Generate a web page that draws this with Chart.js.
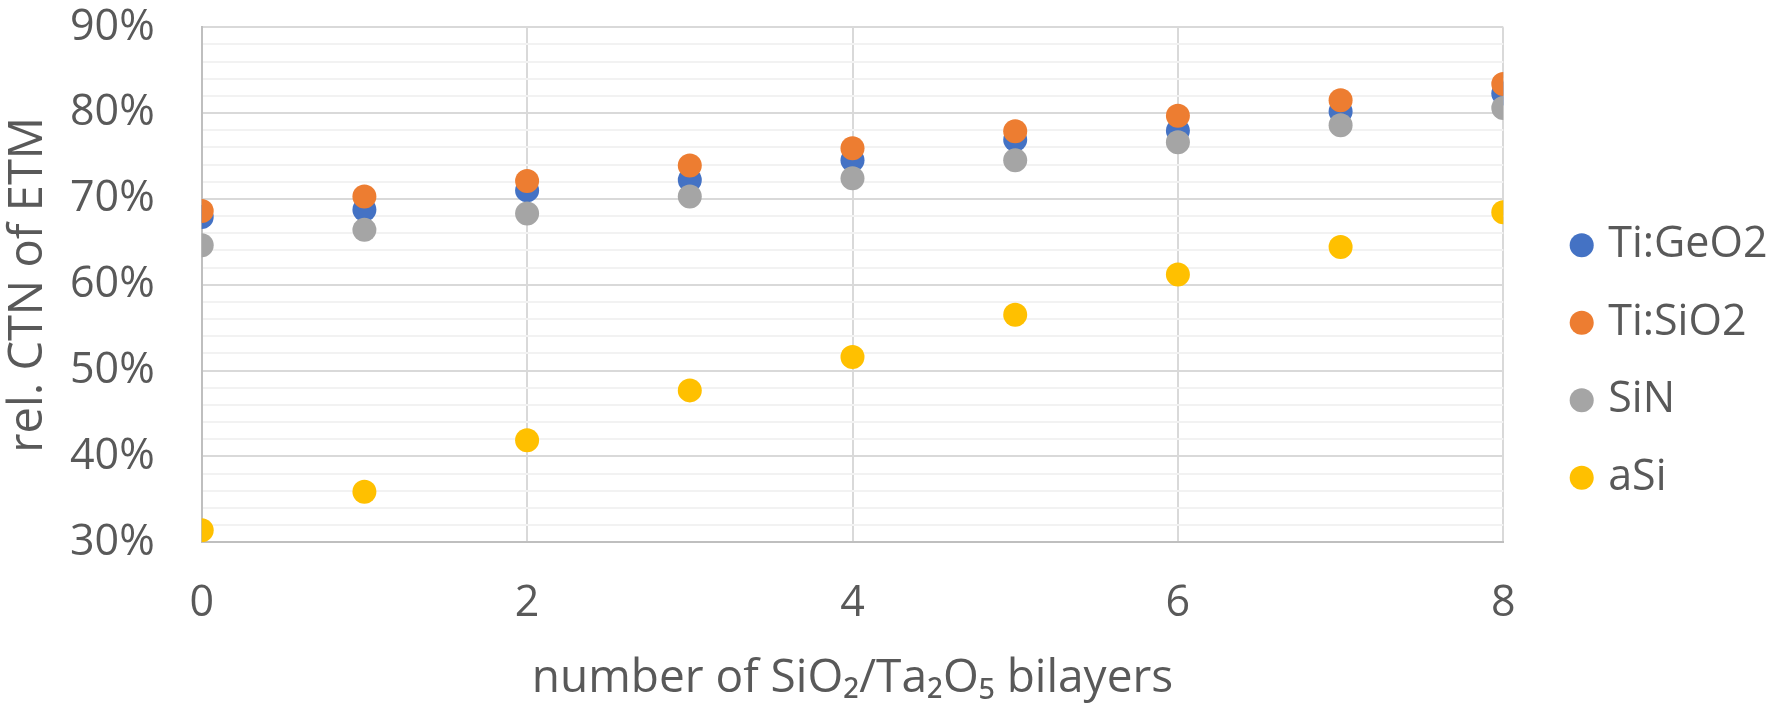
<!DOCTYPE html>
<html>
<head>
<meta charset="utf-8">
<script src="https://cdn.jsdelivr.net/npm/chart.js@4/dist/chart.umd.min.js"></script>
<style>
html,body{margin:0;padding:0;background:#fff;}
canvas{display:block;}
</style>
</head>
<body>
<canvas id="c" width="1787" height="703"></canvas>
<script>
// ---- data (values in %) ----
const bilayers = [0, 1, 2, 3, 4, 5, 6, 7, 8];
const seriesNames = ['Ti:GeO2', 'Ti:SiO2', 'SiN', 'aSi'];
const tiGeO2 = [67.9, 68.75, 71.0, 72.2, 74.5, 76.9, 77.95, 80.2, 82.3];
const tiSiO2 = [68.6, 70.3, 72.1, 73.9, 75.9, 77.9, 79.7, 81.5, 83.4];
const siN    = [64.6, 66.4, 68.3, 70.3, 72.4, 74.5, 76.6, 78.6, 80.6];
const aSi    = [31.4, 35.9, 41.9, 47.7, 51.6, 56.5, 61.2, 64.4, 68.45];
const xTicks = [0, 2, 4, 6, 8];
const yTicks = [30, 32, 34, 36, 38, 40, 42, 44, 46, 48, 50, 52, 54, 56, 58, 60,
                62, 64, 66, 68, 70, 72, 74, 76, 78, 80, 82, 84, 86, 88, 90];
const yMajorTicks = [30, 40, 50, 60, 70, 80, 90];
const xTitle = 'number of SiO\u2082/Ta\u2082O\u2085 bilayers';
const yTitle = 'rel. CTN of ETM';

const colors = ['#4472C4', '#ED7D31', '#A5A5A5', '#FFC000'];
const seriesValues = [tiGeO2, tiSiO2, siN, aSi];
const FONT = "'Open Sans', 'Noto Sans', sans-serif";
const TXT = '#595959';

const datasets = seriesValues.map((vals, i) => ({
  label: seriesNames[i],
  data: vals.map((v, j) => ({x: bilayers[j], y: v})),
  backgroundColor: colors[i],
  borderColor: colors[i],
  pointRadius: 12,
  pointHoverRadius: 12,
  pointBorderWidth: 0,
  pointStyle: 'circle',
  showLine: false,
  order: seriesValues.length - i
}));

const LEGEND_W = 240;
const legendWidthFix = {
  id: 'legendWidthFix',
  afterInit(chart) {
    const lg = chart.legend;
    if (!lg) return;
    const orig = lg.fit;
    lg.fit = function () { orig.call(this); this.width = LEGEND_W; };
  }
};

new Chart(document.getElementById('c'), {
  type: 'scatter',
  data: { datasets },
  plugins: [legendWidthFix],
  options: {
    responsive: false,
    animation: false,
    layout: { padding: { top: 27.3, bottom: 7.5, left: 0, right: 1787 - 1542.2 - LEGEND_W } },
    plugins: {
      tooltip: { enabled: false },
      legend: {
        position: 'right',
        labels: {
          usePointStyle: true,
          pointStyle: 'circle',
          boxWidth: 10,
          boxHeight: 17,
          padding: 34.5,
          color: TXT,
          font: { family: FONT, size: 43 },
          sort: (a, b) => a.datasetIndex - b.datasetIndex
        }
      }
    },
    scales: {
      x: {
        type: 'linear',
        min: 0, max: 8,
        afterBuildTicks(scale) { scale.ticks = xTicks.map(v => ({value: v})); },
        ticks: { color: TXT, font: { family: FONT, size: 43 }, padding: 0, autoSkip: false, maxRotation: 0 },
        grid: { color: '#d9d9d9', lineWidth: 2, drawTicks: true, tickLength: 36, tickColor: 'rgba(0,0,0,0)' },
        border: { display: true, color: '#bfbfbf', width: 2 },
        title: { display: true, text: xTitle, color: TXT, font: { family: FONT, size: 46, lineHeight: 1 }, padding: { top: 0, bottom: -6 } },
        afterFit(scale) { scale.height = 153.2; }
      },
      y: {
        type: 'linear',
        min: 30, max: 90,
        afterBuildTicks(scale) { scale.ticks = yTicks.map(v => ({value: v})); },
        ticks: {
          autoSkip: false,
          color: TXT,
          font: { family: FONT, size: 43 },
          padding: 0,
          callback: (v) => yMajorTicks.includes(v) ? v + '%' : ''
        },
        grid: {
          drawTicks: true,
          tickLength: 47,
          tickColor: 'rgba(0,0,0,0)',
          lineWidth: 2,
          color: (ctx) => (ctx.tick && yMajorTicks.includes(ctx.tick.value)) ? '#d9d9d9' : '#f2f2f2'
        },
        border: { display: true, color: '#bfbfbf', width: 2 },
        title: { display: true, text: yTitle, color: TXT, font: { family: FONT, size: 47, lineHeight: 1 }, padding: { top: 5, bottom: 0 } },
        afterFit(scale) { scale.width = 201.7; }
      },
      yPad: {
        type: 'linear',
        position: 'right',
        display: true,
        grid: { display: false },
        border: { display: false },
        ticks: { display: false },
        afterFit(scale) { scale.width = 1542.2 - 1503.3; }
      }
    }
  }
});
</script>
</body>
</html>
